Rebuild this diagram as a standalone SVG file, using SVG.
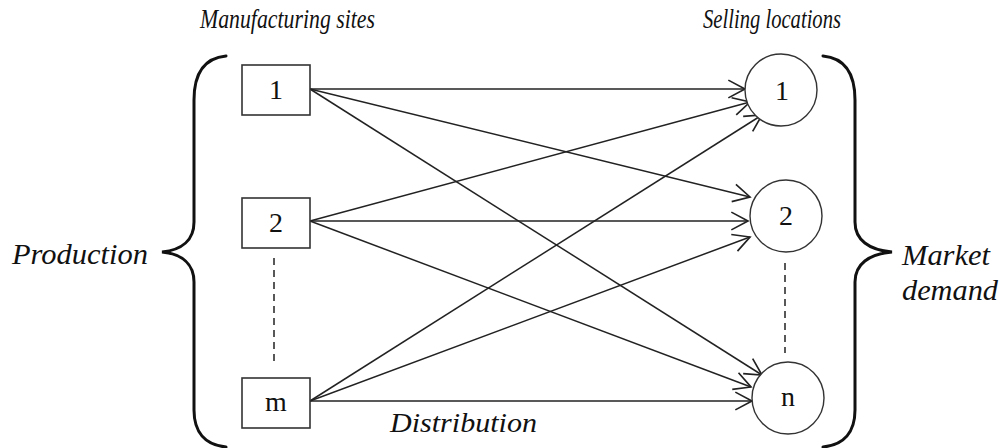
<svg xmlns="http://www.w3.org/2000/svg" width="1003" height="448" viewBox="0 0 1003 448">
  <style>
    .lbl { font-family: "Liberation Serif", "DejaVu Serif", serif; font-style: italic; fill: #111; }
    .num { font-family: "Liberation Serif", "DejaVu Serif", serif; font-size: 28px; fill: #111; text-anchor: middle; }
    .box { fill: #fff; stroke: #333; stroke-width: 1.6; }
    .loc { fill: #fff; stroke: #333; stroke-width: 1.4; }
    .brace { fill: none; stroke: #111; stroke-width: 3; stroke-linecap: round; }
    .dash { stroke: #222; stroke-width: 1.5; stroke-dasharray: 7 5; }
    .flow { stroke: #222; stroke-width: 1.5; fill: none; marker-end: url(#arrow); }
  </style>
  <defs>
    <marker id="arrow" markerUnits="userSpaceOnUse" markerWidth="20" markerHeight="20" viewBox="0 0 16 18" refX="15" refY="9" orient="auto">
      <path d="M0,1 L15,9 L0,17" fill="none" stroke="#222" stroke-width="1.5"/>
    </marker>
  </defs>

  <!-- headings -->
  <text class="lbl" x="200" y="28" font-size="28" textLength="175" lengthAdjust="spacingAndGlyphs">Manufacturing sites</text>
  <text class="lbl" x="703" y="28" font-size="28" textLength="138" lengthAdjust="spacingAndGlyphs">Selling locations</text>
  <text class="lbl" x="12" y="264" font-size="30" textLength="136" lengthAdjust="spacingAndGlyphs">Production</text>
  <text class="lbl" x="902" y="265" font-size="29" textLength="88" lengthAdjust="spacingAndGlyphs">Market</text>
  <text class="lbl" x="902" y="300" font-size="29" textLength="96" lengthAdjust="spacingAndGlyphs">demand</text>
  <text class="lbl" x="390" y="432" font-size="28" textLength="147" lengthAdjust="spacingAndGlyphs">Distribution</text>

  <!-- grouping braces -->
  <path class="brace" d="M226,56 C205,58 194,72 194,100 L194,222 C194,240 182,250 162,252 C182,254 194,264 194,282 L194,410 C194,432 205,445 226,447"/>
  <path class="brace" d="M823,56 C844,58 855,72 855,100 L855,222 C855,240 869,250 892,252 C869,254 855,264 855,282 L855,410 C855,432 844,445 823,447"/>

  <!-- continuation marks -->
  <line class="dash" x1="274" y1="258" x2="274" y2="364"/>
  <line class="dash" x1="785" y1="263" x2="785" y2="353"/>

  <!-- distribution links -->
  <g id="connectors">
    <line class="flow" x1="310" y1="89" x2="745" y2="89"/>
    <line class="flow" x1="310" y1="89" x2="750" y2="197"/>
    <line class="flow" x1="310" y1="89" x2="762" y2="375"/>
    <line class="flow" x1="310" y1="221" x2="750" y2="102"/>
    <line class="flow" x1="310" y1="221" x2="748" y2="221"/>
    <line class="flow" x1="310" y1="221" x2="751" y2="387"/>
    <line class="flow" x1="310" y1="401" x2="762" y2="115"/>
    <line class="flow" x1="310" y1="401" x2="750" y2="237"/>
    <line class="flow" x1="310" y1="401" x2="752" y2="401"/>
  </g>

  <!-- manufacturing sites -->
  <g id="site-1">
    <rect class="box" x="242" y="65" width="68" height="50"/>
    <text class="num" x="276" y="99">1</text>
  </g>
  <g id="site-2">
    <rect class="box" x="242" y="198" width="68" height="50"/>
    <text class="num" x="276" y="232">2</text>
  </g>
  <g id="site-m">
    <rect class="box" x="242" y="378" width="68" height="50"/>
    <text class="num" x="276" y="411">m</text>
  </g>

  <!-- selling locations -->
  <g id="location-1">
    <circle class="loc" cx="781" cy="90" r="36"/>
    <text class="num" x="782" y="100">1</text>
  </g>
  <g id="location-2">
    <circle class="loc" cx="786" cy="216" r="36"/>
    <text class="num" x="786" y="225">2</text>
  </g>
  <g id="location-n">
    <circle class="loc" cx="788" cy="398" r="36"/>
    <text class="num" x="788" y="406">n</text>
  </g>
</svg>
